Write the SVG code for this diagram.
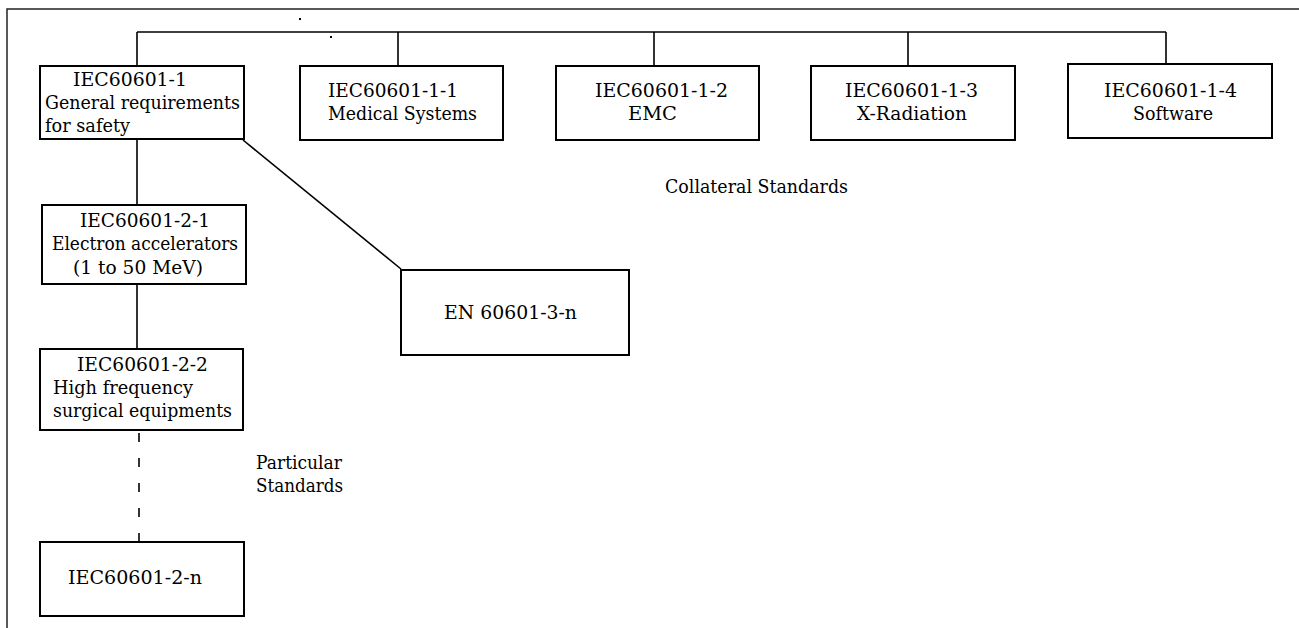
<svg xmlns="http://www.w3.org/2000/svg" width="1299" height="628" viewBox="0 0 1299 628">
<style>
.box{fill:#fff;stroke:#000;stroke-width:2}
.ln{fill:none;stroke:#000;stroke-width:1.6}
.dash{fill:none;stroke:#000;stroke-width:1.6;stroke-dasharray:9 16}
.frame{fill:none;stroke:#222;stroke-width:1.5}
.t{font-family:'DejaVu Serif','Liberation Serif',serif;font-size:19px;fill:#000}
</style>
<rect width="1299" height="628" fill="#fff"/>
<path class="frame" d="M7,628 V9 H1299"/>
<g id="dots" fill="#000">
<rect x="299" y="18" width="2" height="2"/>
<rect x="330" y="36" width="2" height="2"/>
<rect x="403" y="298" width="2" height="2"/>
</g>
<g id="connectors">
<path class="ln" d="M137,32 H1166 M137,32 V66 M398,32 V66 M654,32 V66 M908,32 V66 M1166,32 V64"/>
<path class="ln" d="M137,139 V205 M137,284 V349"/>
<path class="dash" d="M139,433 V541"/>
<path class="ln" d="M243,140 L401,269"/>
</g>
<g class="t">
<g id="n1"><rect class="box" x="40" y="66" width="204" height="73"/>
<text x="73" y="86" textLength="114" lengthAdjust="spacingAndGlyphs">IEC60601-1</text>
<text x="45" y="109" textLength="195" lengthAdjust="spacingAndGlyphs">General requirements</text>
<text x="45" y="132" textLength="85" lengthAdjust="spacingAndGlyphs">for safety</text></g>
<g id="n2"><rect class="box" x="300" y="66" width="203" height="74"/>
<text x="328" y="97" textLength="130" lengthAdjust="spacingAndGlyphs">IEC60601-1-1</text>
<text x="328" y="120" textLength="149" lengthAdjust="spacingAndGlyphs">Medical Systems</text></g>
<g id="n3"><rect class="box" x="556" y="66" width="203" height="74"/>
<text x="595" y="97" textLength="133" lengthAdjust="spacingAndGlyphs">IEC60601-1-2</text>
<text x="628" y="120" textLength="49" lengthAdjust="spacingAndGlyphs">EMC</text></g>
<g id="n4"><rect class="box" x="811" y="66" width="204" height="74"/>
<text x="845" y="97" textLength="133" lengthAdjust="spacingAndGlyphs">IEC60601-1-3</text>
<text x="857" y="120" textLength="110" lengthAdjust="spacingAndGlyphs">X-Radiation</text></g>
<g id="n5"><rect class="box" x="1068" y="64" width="204" height="74"/>
<text x="1104" y="97" textLength="133" lengthAdjust="spacingAndGlyphs">IEC60601-1-4</text>
<text x="1133" y="120" textLength="80" lengthAdjust="spacingAndGlyphs">Software</text></g>
<g id="n6"><rect class="box" x="42" y="205" width="204" height="79"/>
<text x="80" y="227" textLength="130" lengthAdjust="spacingAndGlyphs">IEC60601-2-1</text>
<text x="52" y="250" textLength="186" lengthAdjust="spacingAndGlyphs">Electron accelerators</text>
<text x="73" y="274" textLength="130" lengthAdjust="spacingAndGlyphs">(1 to 50 MeV)</text></g>
<g id="n7"><rect class="box" x="40" y="349" width="203" height="81"/>
<text x="77" y="371" textLength="131" lengthAdjust="spacingAndGlyphs">IEC60601-2-2</text>
<text x="53" y="394" textLength="140" lengthAdjust="spacingAndGlyphs">High frequency</text>
<text x="53" y="417" textLength="179" lengthAdjust="spacingAndGlyphs">surgical equipments</text></g>
<g id="n8"><rect class="box" x="40" y="542" width="204" height="74"/>
<text x="68" y="584" textLength="134" lengthAdjust="spacingAndGlyphs">IEC60601-2-n</text></g>
<g id="n9"><rect class="box" x="401" y="270" width="228" height="85"/>
<text x="444" y="319" textLength="133" lengthAdjust="spacingAndGlyphs">EN 60601-3-n</text></g>
<g id="labels">
<text x="665" y="193" textLength="183" lengthAdjust="spacingAndGlyphs">Collateral Standards</text>
<text x="256" y="469" textLength="86" lengthAdjust="spacingAndGlyphs">Particular</text>
<text x="256" y="492" textLength="87" lengthAdjust="spacingAndGlyphs">Standards</text>
</g>
</g>
</svg>
